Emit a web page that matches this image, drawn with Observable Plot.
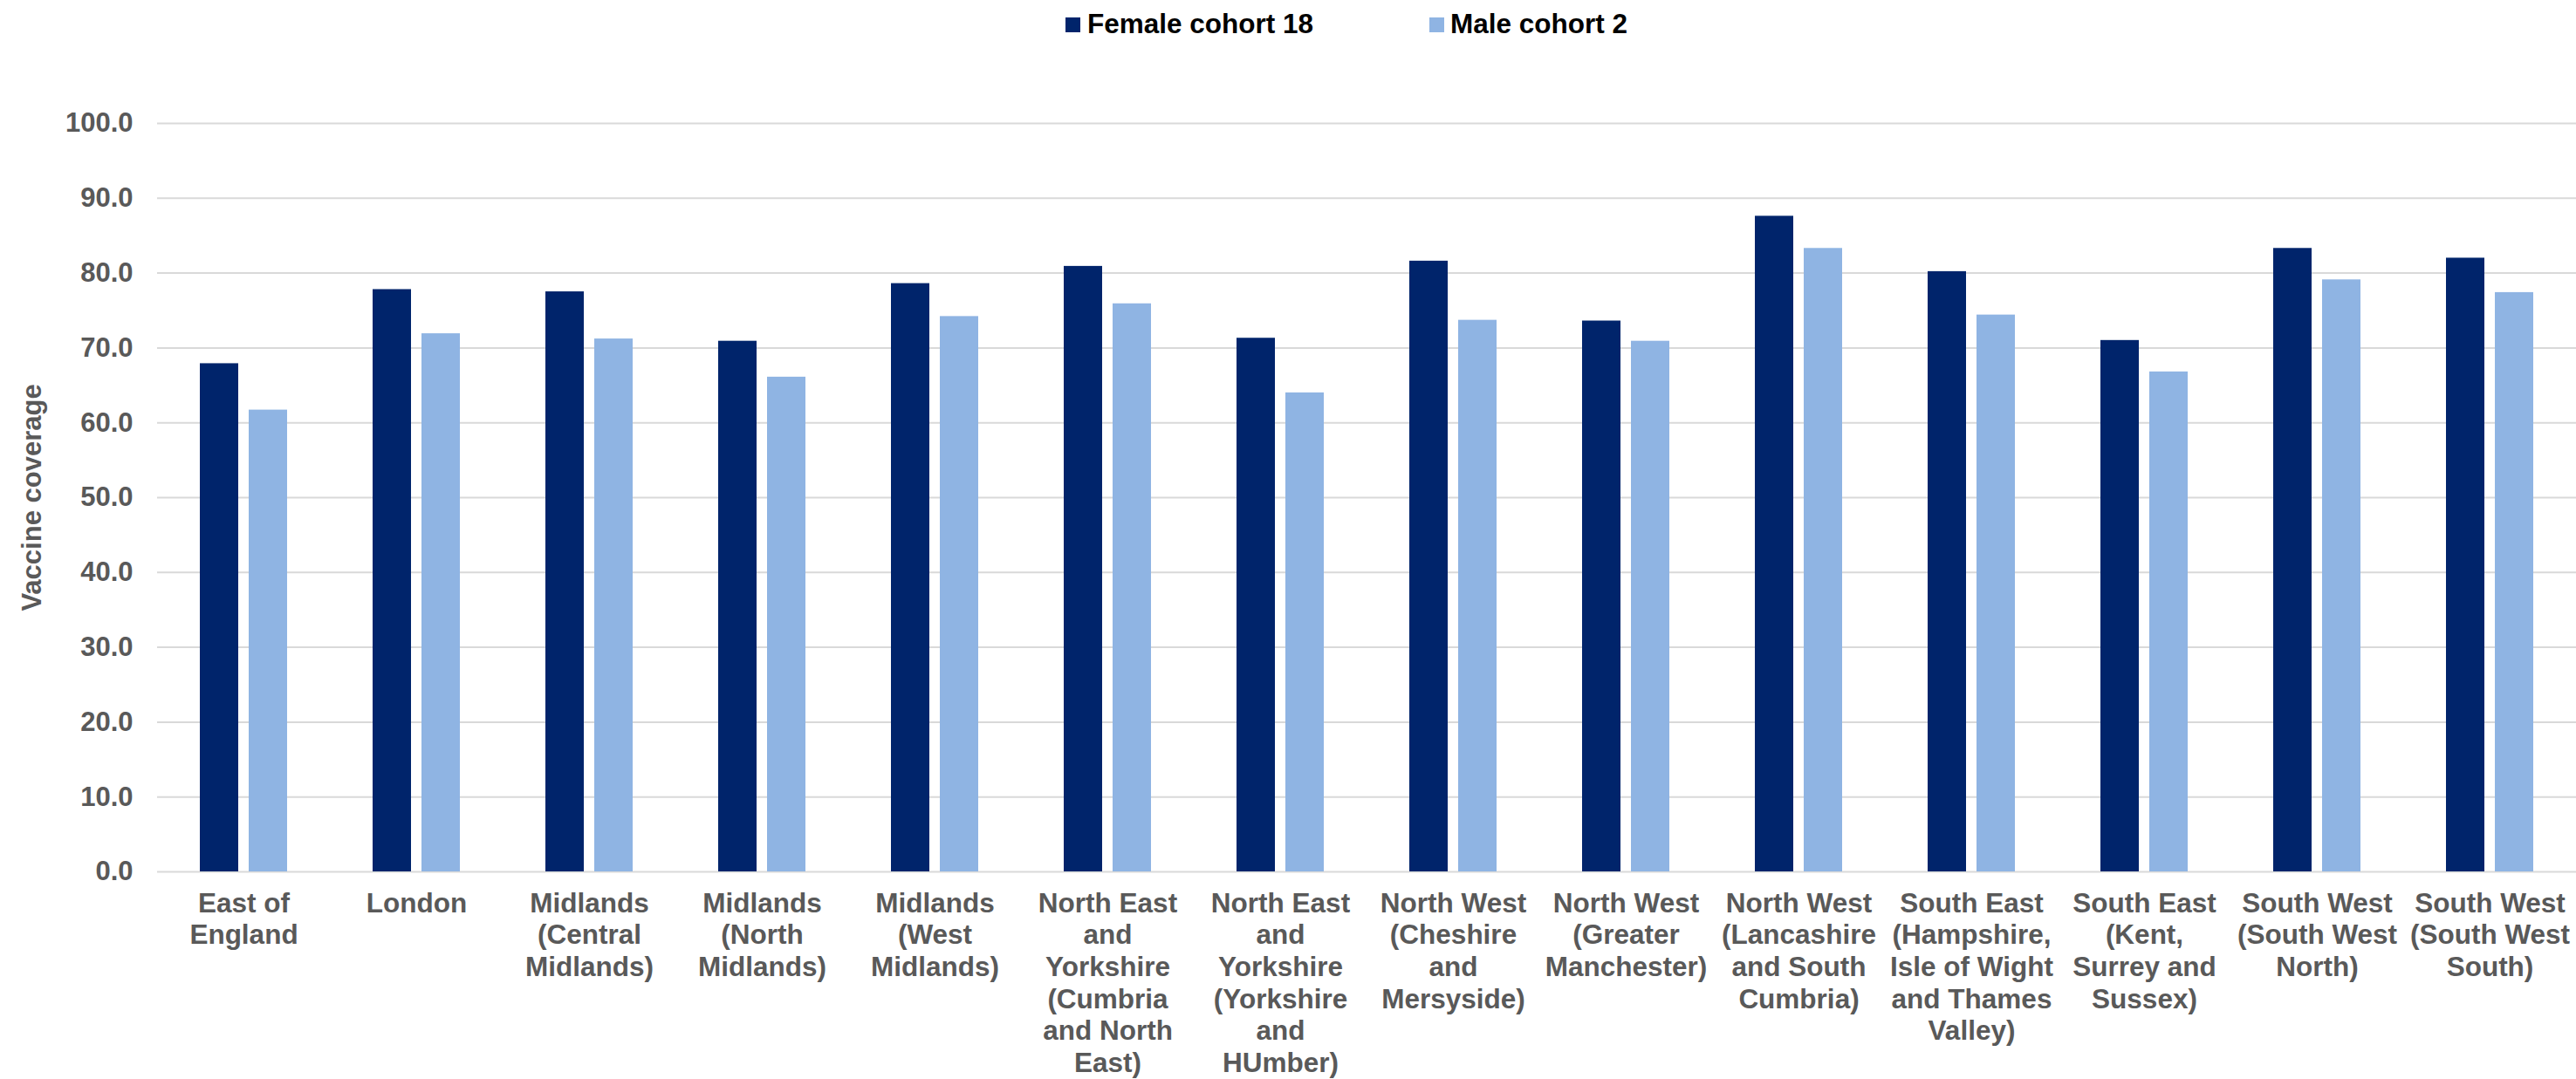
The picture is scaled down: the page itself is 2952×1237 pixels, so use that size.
<!DOCTYPE html>
<html>
<head>
<meta charset="utf-8">
<script src="https://cdn.jsdelivr.net/npm/d3@7"></script>
<script src="https://cdn.jsdelivr.net/npm/@observablehq/plot@0.6"></script>
<style>
  html, body { margin: 0; padding: 0; background: #fff; overflow: hidden; }
  body { width: 2952px; height: 1237px; position: relative; font-family: "Liberation Sans", Arial, sans-serif; }
  #legend { position: absolute; top: 0; left: 0; width: 2952px; height: 56px; }
  .sw { position: absolute; top: 20px; width: 17px; height: 17px; }
  .lt { position: absolute; top: 9px; font-size: 31.5px; line-height: 36px; font-weight: bold; color: #000; white-space: nowrap; }
  #chart { position: absolute; top: 56px; left: 0; }
</style>
</head>
<body>
<div id="legend"></div>
<div id="chart"></div>
<script>
const regions = [
  "East of\nEngland",
  "London",
  "Midlands\n(Central\nMidlands)",
  "Midlands\n(North\nMidlands)",
  "Midlands\n(West\nMidlands)",
  "North East\nand\nYorkshire\n(Cumbria\nand North\nEast)",
  "North East\nand\nYorkshire\n(Yorkshire\nand\nHUmber)",
  "North West\n(Cheshire\nand\nMersyside)",
  "North West\n(Greater\nManchester)",
  "North West\n(Lancashire\nand South\nCumbria)",
  "South East\n(Hampshire,\nIsle of Wight\nand Thames\nValley)",
  "South East\n(Kent,\nSurrey and\nSussex)",
  "South West\n(South West\nNorth)",
  "South West\n(South West\nSouth)"
];
const seriesNames = ["Female cohort 18", "Male cohort 2"];
const femaleValues = [67.9, 77.8, 77.5, 70.9, 78.6, 80.9, 71.3, 81.6, 73.6, 87.6, 80.2, 71.0, 83.3, 82.0];
const maleValues   = [61.7, 71.9, 71.2, 66.1, 74.2, 75.9, 64.0, 73.7, 70.9, 83.3, 74.4, 66.8, 79.1, 77.4];
const seriesColors = ["#00246B", "#8FB4E3"];
const yTicks = [0, 10, 20, 30, 40, 50, 60, 70, 80, 90, 100];
const yLabel = "Vaccine coverage";

const data = [];
regions.forEach((r, i) => {
  data.push({region: r, series: seriesNames[0], value: femaleValues[i]});
  data.push({region: r, series: seriesNames[1], value: maleValues[i]});
});

// Legend
const legend = document.getElementById("legend");
const legendPos = [[1221, 1246], [1638, 1662]];
seriesNames.forEach((s, i) => {
  const sw = document.createElement("div");
  sw.className = "sw";
  sw.style.left = legendPos[i][0] + "px";
  sw.style.background = seriesColors[i];
  legend.appendChild(sw);
  const t = document.createElement("div");
  t.className = "lt";
  t.style.left = legendPos[i][1] + "px";
  t.textContent = s;
  legend.appendChild(t);
});

const chart = Plot.plot({
  width: 2952,
  height: 1181,
  marginTop: 85,
  marginLeft: 180,
  marginRight: 0,
  marginBottom: 238,
  style: {fontFamily: "Liberation Sans, Arial, sans-serif", fontWeight: "bold", color: "#595959", background: "#fff"},
  fx: {domain: regions, padding: 0, label: null, round: false},
  x: {domain: seriesNames, paddingInner: 0.2143, paddingOuter: 0.875, axis: null, round: false},
  y: {domain: [0, 100], label: null},
  color: {domain: seriesNames, range: seriesColors},
  marks: [
    Plot.gridY(yTicks, {stroke: "#d9d9d9", strokeOpacity: 1, strokeWidth: 2}),
    Plot.barY(data, {fx: "region", x: "series", y: "value", fill: "series"}),
    Plot.axisY(yTicks, {
      tickSize: 0, tickPadding: 28, tickFormat: d => d.toFixed(1),
      fontSize: 31, fill: "#595959", label: null
    }),
    Plot.text([yLabel], {
      facetAnchor: "left", frameAnchor: "left", textAnchor: "middle", lineAnchor: "middle",
      rotate: -90, dx: -143, fontSize: 31, fill: "#595959", text: d => d
    }),
    Plot.axisFx({
      anchor: "bottom", tickSize: 0, tickPadding: 20, label: null,
      fontSize: 31.5, lineHeight: 1.165, fill: "#595959", lineWidth: 100
    })
  ]
});
document.getElementById("chart").appendChild(chart);
</script>
</body>
</html>
